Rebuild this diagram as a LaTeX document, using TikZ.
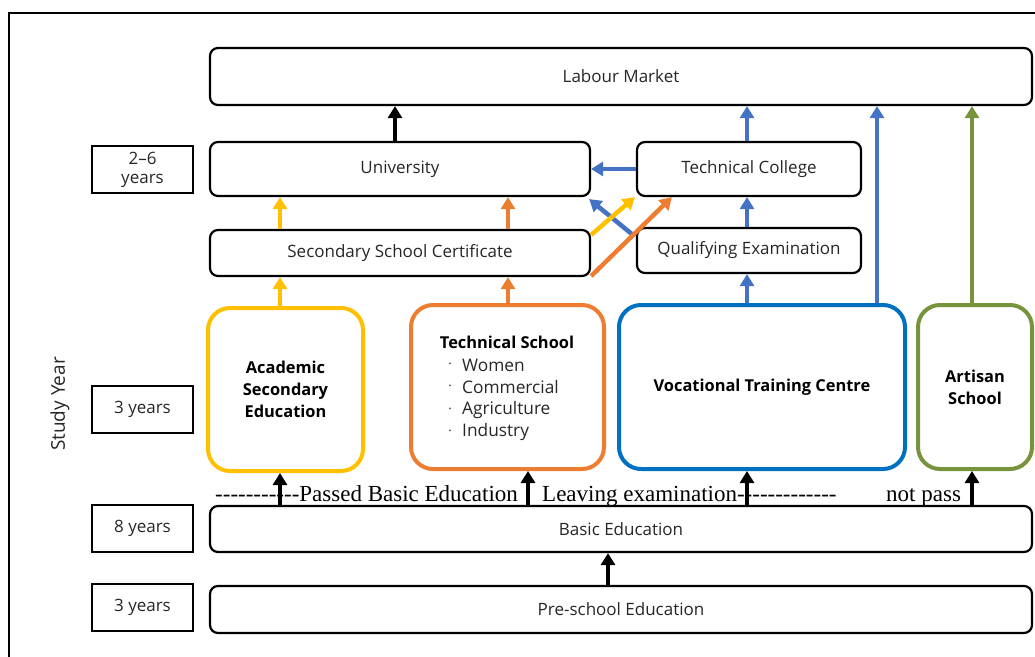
\documentclass[tikz,border=0pt]{standalone}
\usepackage{fontspec}
\setmainfont{Open Sans}
\newfontfamily\notefont{Liberation Serif}
\usetikzlibrary{arrows.meta,calc}
\definecolor{cyellow}{HTML}{FFC000}
\definecolor{corange}{HTML}{ED7D31}
\definecolor{cblue}{HTML}{0070C0}
\definecolor{ablue}{HTML}{4472C4}
\definecolor{cgreen}{HTML}{77933C}
\definecolor{ink}{HTML}{262626}
\begin{document}
\begin{tikzpicture}[x=1pt,y=-1pt,
  box/.style={draw=black, line width=2.2pt, rounded corners=8pt, inner sep=0pt,
    text=ink, font=\fontsize{17}{20}\selectfont},
  yrs/.style={draw=black, line width=1.6pt, inner sep=0pt, minimum width=101pt,
    minimum height=47pt, align=center, text=ink, font=\fontsize{17}{20}\selectfont},
  school/.style={line width=4pt, rounded corners=22pt, inner sep=0pt, align=center,
    text=black, font=\fontsize{16.4}{22}\selectfont\bfseries},
  item/.style={anchor=west, inner sep=0pt, text=ink, font=\fontsize{17.3}{20}\selectfont},
  note/.style={anchor=base west, inner sep=0pt, text=black, font=\notefont\fontsize{23}{26}\selectfont},
  up/.style={line width=4.5pt, -{Triangle[width=14pt,length=12pt]}},
]
\useasboundingbox (0,0) rectangle (1035,656);
% outer frame (runs off the page on the right and bottom)
\draw[line width=2pt] (9,670) -- (9,13) -- (1050,13);

% study-year column
\node[rotate=90, text=ink, font=\fontsize{19}{22}\selectfont] (sy) at (60,404) {Study Year};
\node[yrs] (y1) at (142.5,169.5) {2--6\\[-1pt]years};
\node[yrs] (y2) at (142.5,409.5) {3 years};
\node[yrs] (y3) at (142.5,528.5) {8 years};
\node[yrs] (y4) at (142.5,607.5) {3 years};

% institutions
\node[box, minimum width=822pt, minimum height=57pt] (lm) at (621,76.5) {Labour Market};
\node[box, minimum width=380pt, minimum height=54pt] (uni) at (400,169) {University};
\node[box, minimum width=224pt, minimum height=54pt] (tc) at (749,169) {Technical College};
\node[box, minimum width=380pt, minimum height=46pt] (sc) at (400,253) {Secondary School Certificate};
\node[box, minimum width=224pt, minimum height=45pt] (qe) at (749,250.5) {Qualifying Examination};
\node[box, minimum width=822pt, minimum height=46pt] (be) at (621,529) {Basic Education};
\node[box, minimum width=822pt, minimum height=47pt] (pe) at (621,609.5) {Pre-school Education};

\node[school, draw=cyellow, minimum width=155pt, minimum height=163pt] (ase) at (285.5,389.5)
  {Academic\\Secondary\\Education};
\node[school, draw=corange, minimum width=193pt, minimum height=164pt] (ts) at (507.5,387) {};
\node[school, draw=cblue, minimum width=286pt, minimum height=164pt] (vtc) at (762,387)
  {Vocational Training Centre};
\node[school, draw=cgreen, minimum width=114pt, minimum height=164pt] (as) at (975,387)
  {Artisan\\School};

% technical school streams
\node[inner sep=0pt, text=black, font=\fontsize{16.4}{20}\selectfont\bfseries] (tst) at (507,342) {Technical School};
\foreach \t/\yy [count=\i] in {Women/365,Commercial/387,Agriculture/410,Industry/432}{
  \node[item] (tsi\i) at (462,\yy) {\t};
  \node[inner sep=0pt, text=ink, font=\fontsize{13}{13}\selectfont] (tsb\i) at (450,\yy+1) {·};
}

% transition notes above basic education
\node[note] (n1) at (215,501) {-----------Passed Basic Education};
\node[note] (n2) at (542,501) {Leaving examination-------------};
\node[note] (n3) at (886,501) {not pass};

% progression arrows
\draw[up, black] (uni.north -| 395,0) -- (lm.south -| 395,0);
\draw[up, ablue] (tc.north -| 747,0) -- (lm.south -| 747,0);
\draw[up, ablue] (vtc.north -| 877,0) -- (lm.south -| 877,0);
\draw[up, cgreen] (as.north -| 972,0) -- (lm.south -| 972,0);

\draw[up, cyellow] (sc.north -| 280,0) -- (uni.south -| 280,0);
\draw[up, corange] (sc.north -| 508,0) -- (uni.south -| 508,0);
\draw[up, ablue] (tc.west) -- (uni.east);
\draw[up, ablue] ($(qe.north west)+(-3,8)$) -- ($(uni.south east)+(-2,2)$);
\draw[up, cyellow] ($(sc.north east)+(0,6)$) -- ($(tc.south west)+(-1,0)$);
\draw[up, corange] ($(sc.south east)+(0,-1)$) -- ($(tc.south west)+(36,0)$);
\draw[up, ablue] (qe.north -| 747,0) -- (tc.south -| 747,0);

\draw[up, cyellow] (ase.north -| 280,0) -- (sc.south -| 280,0);
\draw[up, corange] (ts.north -| 508,0) -- (sc.south -| 508,0);
\draw[up, ablue] (vtc.north -| 747,0) -- (qe.south -| 747,0);

\draw[up, black] (be.north -| 280,0) -- (ase.south -| 280,0);
\draw[up, black] (be.north -| 528,0) -- (ts.south -| 528,0);
\draw[up, black] (be.north -| 747,0) -- (vtc.south -| 747,0);
\draw[up, black] (be.north -| 972,0) -- (as.south -| 972,0);
\draw[up, black] (pe.north -| 608,0) -- (be.south -| 608,0);
\end{tikzpicture}
\end{document}
